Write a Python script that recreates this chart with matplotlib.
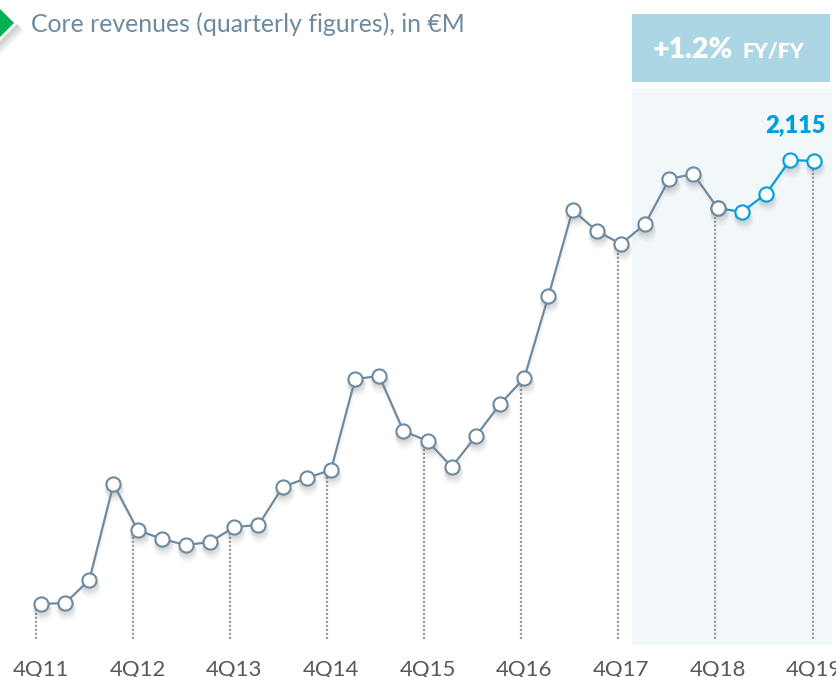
from matplotlib import pyplot as plt
from matplotlib.patches import Polygon, Rectangle
from matplotlib.transforms import Affine2D

quarters = ['4Q11', '4Q12', '4Q13', '4Q14', '4Q15', '4Q16', '4Q17', '4Q18', '4Q19']
tick_pos = [0, 4, 8, 12, 16, 20, 24, 28, 32]
revenues = [1229, 1231, 1277, 1469, 1377, 1359, 1347, 1353, 1383, 1387, 1463,
            1481, 1497, 1679, 1685, 1575, 1555, 1503, 1565, 1629, 1681, 1845,
            2017, 1975, 1949, 1989, 2079, 2089, 2021, 2013, 2049, 2117, 2115]
split = 28  # last year is drawn in blue

GREY = '#6d8aa0'
BLUE = '#009fda'
W, H = 836, 677
MS = 10.2
MEW = 1.5

plt.rcParams['font.family'] = ['Lato', 'DejaVu Sans']
fig = plt.figure(figsize=(W / 100, H / 100), dpi=100)
ax = fig.add_axes([0, 0, 1, 1])
ax.set_xlim(-1.697, 32.9)
ax.set_ylim(1083, 2437)
ax.axis('off')


def box(x0, y0, x1, y1, color):
    # pixel box, top-left origin
    ax.add_patch(Rectangle((x0 / W, 1 - y1 / H), (x1 - x0) / W, (y1 - y0) / H,
                           transform=fig.transFigure, color=color, lw=0, zorder=1))


def diamond(dx, dy, **kw):
    pts = [(-30, 23), (-7, 0), (16, 23), (-7, 46)]
    pts = [((x + dx) / W, 1 - (y + dy) / H) for x, y in pts]
    ax.add_patch(Polygon(pts, closed=True, transform=fig.transFigure, **kw))


box(632, 14, 830, 82, '#acd6e3')
box(632, 89, 832, 645, '#f2f7fa')

# green marker in the corner, soft shadow first
for d in [2, 3, 4, 5, 6, 7, 8]:
    diamond(d, d, fc='#777777', ec='none', alpha=0.06, zorder=2)
diamond(0, 0, fc='#00b050', ec='white', lw=2, zorder=3)

# dotted drop lines
for p in tick_pos:
    drop_x = p - 0.2 + p * 0.004
    ax.plot([drop_x, drop_x], [1159, revenues[p]], color='#a0a0a0', lw=1.6,
            ls=(0, (1, 0.8)), zorder=2)

# soft shadows under the line and markers
x_all = list(range(len(revenues)))
for off, size, a in [((0, -2), 1, 0.035), ((0, -3), 2, 0.035), ((1, -4), 2, 0.035),
                     ((1, -5), 3, 0.03), ((1, -6), 3, 0.025), ((1, -7), 4, 0.02),
                     ((1, -8), 4, 0.015)]:
    shift = ax.transData + Affine2D().translate(off[0], off[1])
    ax.plot(x_all, revenues, ls='none', marker='o', ms=MS + size, mew=0, mfc='#333333',
            alpha=a, zorder=3, transform=shift)
    ax.plot(x_all, revenues, color='#333333', lw=1.5, alpha=a * 0.3, zorder=3, transform=shift)

ax.plot(x_all[:split + 1], revenues[:split + 1], color=GREY, lw=1.6, zorder=4,
        marker='o', ms=MS, mfc='white', mec=GREY, mew=MEW)
ax.plot(x_all[split:], revenues[split:], color=BLUE, lw=1.6, zorder=4)
ax.plot(x_all[split], revenues[split], marker='o', ms=MS, mfc='white', mec=GREY, mew=MEW, zorder=5)
ax.plot(x_all[split + 1:], revenues[split + 1:], ls='none', marker='o', ms=MS, mfc='white',
        mec=BLUE, mew=MEW, zorder=5)

# texts
fig.text(31 / W, 1 - 24 / H, 'Core revenues (quarterly figures), in €M', color=GREY,
         fontsize=17.8, va='center', ha='left')
fig.text(653 / W, 1 - 50 / H, '+1.2%', color='white', fontsize=20.5, fontweight='heavy',
         va='center', ha='left', zorder=6)
fig.text(742 / W, 1 - 51 / H, 'FY/FY', color='white', fontsize=15, fontweight='heavy',
         va='center', ha='left', zorder=6)
fig.text(796 / W, 1 - 125 / H, '2,115', color=BLUE, fontsize=17, fontweight='heavy',
         va='center', ha='center', zorder=6)

for p, q in zip(tick_pos, quarters):
    ax.text(p, 1083 + 2 * 7, q, color='#595959', fontsize=16, ha='center', va='center',
            clip_on=False)

fig.savefig('out.png', dpi=100)
